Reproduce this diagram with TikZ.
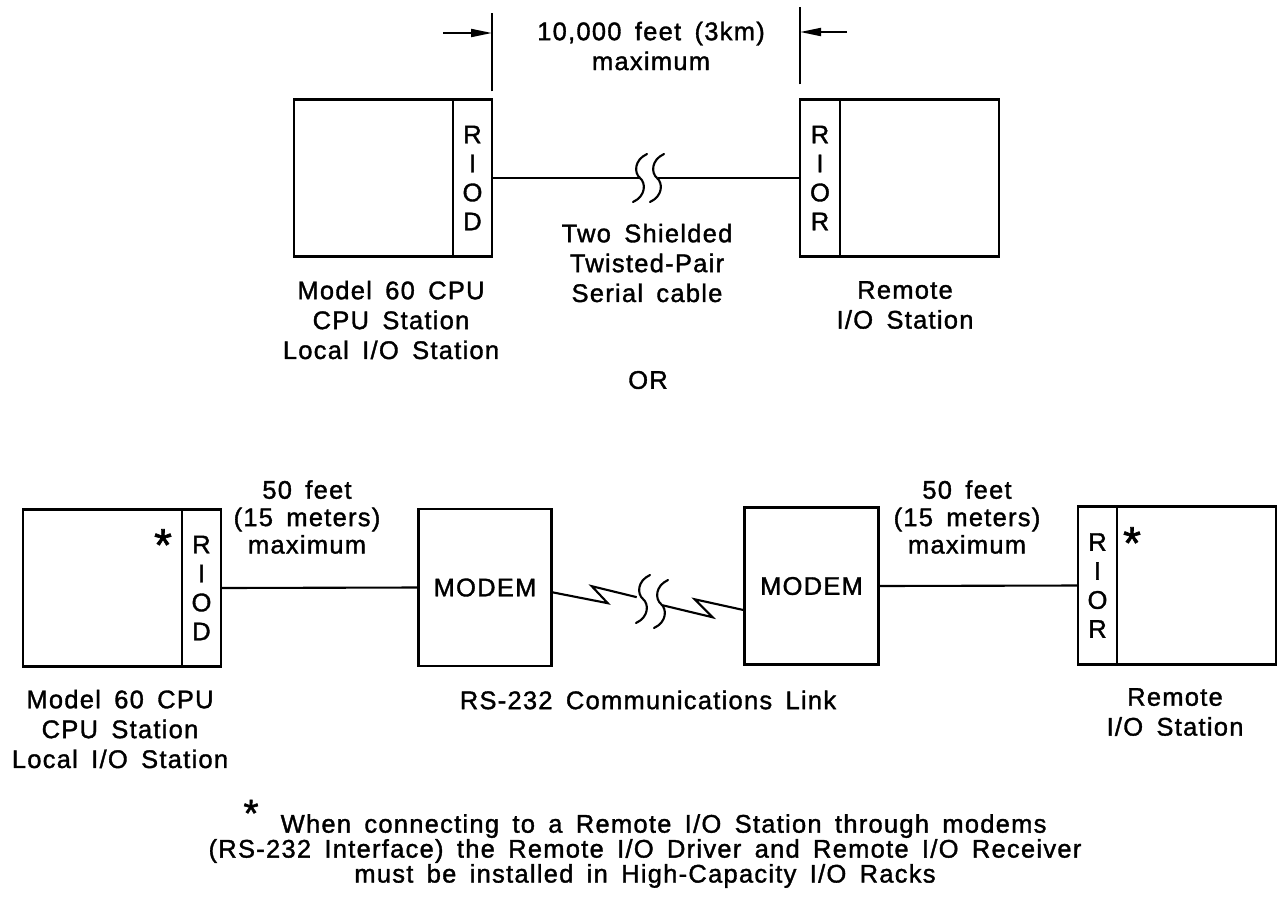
\documentclass[tikz,border=0pt]{standalone}
\usepackage{fontspec}
\setmainfont{Liberation Sans}[LetterSpace=5.0,WordSpace=1.6,FakeBold=1.4]
\usetikzlibrary{arrows.meta, positioning}

\begin{document}
\begin{tikzpicture}[
  x=0.02cm, y=0.02cm, >={Triangle[length=0.42cm,width=0.16cm]},
  font=\fontsize{14.5}{17}\selectfont,
  body/.style={rectangle, draw, line width=1.6pt, outer sep=0pt, inner sep=0pt,
               minimum width=3.18cm, minimum height=3.15cm},
  strip/.style={rectangle, draw, line width=1.6pt, outer sep=0pt, inner sep=0pt,
                minimum width=0.78cm, minimum height=3.15cm, align=center,
                font=\fontsize{14.5}{16.5}\selectfont},
  modem/.style={rectangle, draw, line width=1.6pt, outer sep=0pt, inner sep=0pt,
                minimum width=2.67cm, minimum height=3.14cm},
  lbl/.style={align=center, inner sep=0pt},
  star/.style={inner sep=0pt, font=\fontsize{26}{26}\selectfont},
  wire/.style={line width=1.2pt},
  dim/.style={line width=1.1pt},
  brk/.pic={\draw[wire, line cap=round] (7,24) .. controls (-6,18) and (-6,5) .. (0,0)
            .. controls (6,-5) and (6,-18) .. (-7,-24);}]
  \useasboundingbox (0,0) rectangle (1278,-907);
  % direct cable
  \node[body] (cpuA) at (373.5,-178) {};
  \node[strip, right=0pt of cpuA] (riodA) {R\\I\\O\\D};
  \node[strip, minimum width=0.8cm] (riorA) at (820,-178) {R\\I\\O\\R};
  \node[body, right=0pt of riorA] (remA) {};
  \node[lbl] (dist) at (651,-46) {10,000 feet (3km)\\maximum};
  \coordinate (tipL) at (492,-33);
  \coordinate (tipR) at (800,-32);
  \draw[dim] ([yshift=0.16cm]riodA.north east) -- ++(0,78);
  \draw[dim] ([yshift=0.3cm]riorA.north west) -- ++(0,77);
  \draw[dim,->] ([xshift=-0.98cm]tipL) -- (tipL);
  \draw[dim,->] ([xshift=0.94cm]tipR) -- (tipR);
  \draw[wire] (riodA.east) -- ++(148,0);
  \draw[wire] (riorA.west) -- ++(-142,0);
  \pic at (640,-178) {brk};
  \pic at (657,-178) {brk};
  \node[lbl] (cable) at (647,-263) {Two Shielded\\Twisted-Pair\\Serial cable};
  \node[lbl] (cpuAlbl) at (391,-320) {Model 60 CPU\\CPU Station\\Local I/O Station};
  \node[lbl] (remAlbl) at (905,-305) {Remote\\I/O Station};
  \node[lbl] (or) at (648,-380) {OR};
  % modem link
  \node[body] (cpuB) at (102.5,-588) {};
  \node[strip, right=0pt of cpuB] (riodB) {R\\I\\O\\D};
  \node[star] (starB) at (163,-545) {*};
  \node[modem] (modemA) at (485,-587.5) {MODEM};
  \node[modem] (modemB) at (811.5,-586) {MODEM};
  \node[strip] (riorB) at (1097.5,-585.5) {R\\I\\O\\R};
  \node[body, right=0pt of riorB] (remB) {};
  \node[star] (starC) at (1132,-543) {*};
  \draw[wire] (riodB.east) -- (modemA.west);
  \draw[wire] (modemB.east) -- (riorB.west);
  \draw[wire] (modemA.-4) -- ++(56,-11) -- ++(-16,17) -- ++(45,-11);
  \draw[wire] (modemB.200) -- ++(-50,11) -- ++(18,-18) -- ++(-50,12);
  \pic at (643,-599) {brk};
  \pic at (661,-604) {brk};
  \node[lbl, font=\fontsize{14.5}{15.6}\selectfont] (lenA) at (307,-517)
      {50 feet\\(15 meters)\\maximum};
  \node[lbl, font=\fontsize{14.5}{15.6}\selectfont] (lenB) at (967,-517)
      {50 feet\\(15 meters)\\maximum};
  \node[lbl] (cpuBlbl) at (120,-729) {Model 60 CPU\\CPU Station\\Local I/O Station};
  \node[lbl] (link) at (648,-700) {RS-232 Communications Link};
  \node[lbl] (remBlbl) at (1175,-712) {Remote\\I/O Station};
  \node[lbl, font=\fontsize{14.5}{14.2}\selectfont] (note) at (645,-851)
      {\smash{\raisebox{3.5pt}{\fontsize{22}{22}\selectfont *}}\hspace{5pt} When connecting to a Remote I/O Station through modems\\
       (RS-232 Interface) the Remote I/O Driver and Remote I/O Receiver\\
       must be installed in High-Capacity I/O Racks};
\end{tikzpicture}
\end{document}
